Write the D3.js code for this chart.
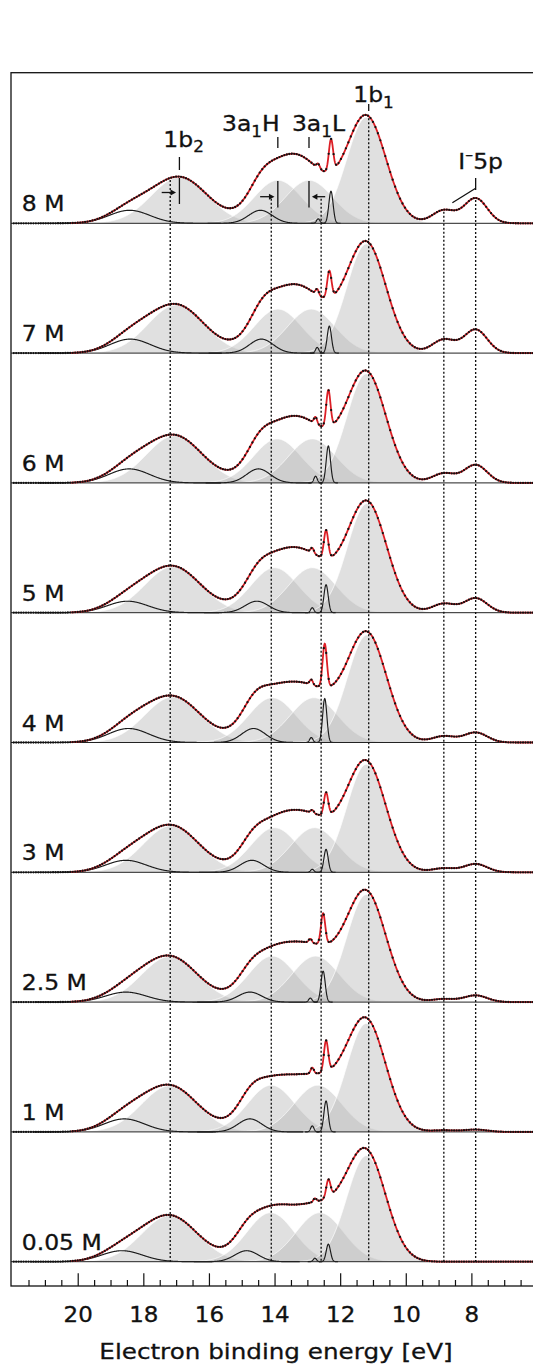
<!DOCTYPE html>
<html><head><meta charset="utf-8">
<script src="https://cdn.jsdelivr.net/npm/d3@7"></script>
<style>html,body{margin:0;padding:0;background:#fff;} svg{display:block;}</style>
</head><body>
<svg id="c" width="533" height="1365"></svg>
<script>
// ---------------- data ----------------
const panels = ["8 M","7 M","6 M","5 M","4 M","3 M","2.5 M","1 M","0.05 M"];

// liquid-phase components (grey fills): position [eV], height [arb. u.]
const b2Pos  = [16.90, 17.00, 17.05, 17.10, 17.10, 17.15, 17.20, 17.20, 17.20];
const b2Amp  = [0.46, 0.48, 0.47, 0.46, 0.455, 0.465, 0.455, 0.46, 0.46];
const a1HPos = [13.90, 13.90, 13.92, 14.00, 14.07, 14.00, 14.07, 14.10, 14.12];
const a1HAmp = [0.43, 0.44, 0.44, 0.45, 0.448, 0.446, 0.46, 0.467, 0.49];
const a1LPos = [12.95, 12.88, 12.85, 12.85, 12.80, 12.78, 12.75, 12.68, 12.62];
const a1LAmp = [0.43, 0.44, 0.44, 0.45, 0.448, 0.446, 0.46, 0.467, 0.49];
const b1Pos  = [11.20, 11.20, 11.20, 11.18, 11.18, 11.20, 11.20, 11.20, 11.20];
const b1Amp  = [1.06, 1.09, 1.09, 1.09, 1.075, 1.08, 1.075, 1.085, 1.06];
const liquidWidths = [0.85, 0.72, 0.72, 0.60];

// gas-phase components (black lines)
const gas1Pos = [18.42, 18.40, 18.43, 18.48, 18.45, 18.53, 18.53, 18.58, 18.65];
const gas1Amp = [0.13, 0.14, 0.14, 0.115, 0.14, 0.12, 0.10, 0.13, 0.11];
const gas2Pos = [14.43, 14.40, 14.49, 14.54, 14.64, 14.69, 14.75, 14.75, 14.85];
const gas2Amp = [0.13, 0.14, 0.14, 0.115, 0.14, 0.12, 0.10, 0.13, 0.11];
const gas3Pos = [12.28, 12.33, 12.36, 12.43, 12.47, 12.43, 12.52, 12.43, 12.36];
const gas3Amp = [0.32, 0.27, 0.37, 0.28, 0.44, 0.23, 0.31, 0.31, 0.175];
const gas4Pos = [12.67, 12.70, 12.75, 12.85, 12.88, 12.85, 12.91, 12.85, 12.77];
const gas4Amp = [0.045, 0.057, 0.067, 0.05, 0.05, 0.03, 0.04, 0.06, 0.035];
const gasWidths = [0.62, 0.36, 0.065, 0.05];

// iodide I- 5p peaks
const iodidePos = [7.87, 8.84];
const iodide1Amp = [0.25, 0.235, 0.18, 0.145, 0.10, 0.083, 0.067, 0.023, 0];
const iodide2Amp = [0.13, 0.135, 0.095, 0.09, 0.063, 0.04, 0.031, 0.016, 0];
const iodideWidths = [0.35, 0.35];

// reference (0.05 M) positions and shifted 8 M positions
const refLines = [17.18, 14.10, 12.58, 11.13, 8.84, 7.87];
const shift8M = [16.90, 13.90, 12.95];

const majorTicks = [20, 18, 16, 14, 12, 10, 8];
const minorTicks = [21.5, 21, 20.5, 19.5, 19, 18.5, 17.5, 17, 16.5, 15.5, 15, 14.5,
                    13.5, 13, 12.5, 11.5, 11, 10.5, 9.5, 9, 8.5, 7.5, 7, 6.5];
const xTitle = "Electron binding energy [eV]";

// ---------------- drawing ----------------
const svg = d3.select("#c");
const FONT = "'DejaVu Sans', Verdana, sans-serif";
const FS = 1.12; // horizontal stretch of lettering
const frameLeft = 11, frameTop = 72.7, frameBottom = 1286, frameRight = 548;

const x = d3.scaleLinear().domain([22, 6]).range([12.1, 537]);
const base = d3.scalePoint().domain(panels).range([223.3, 1261.7]);
const yI = d3.scaleLinear().domain([0, 1]).range([0, 100]);

const gauss = (e, c, a, w) => a * Math.exp(-0.5 * ((e - c) / w) ** 2);

function comps(i) {
  return {
    liquid: [[b2Pos[i], b2Amp[i], liquidWidths[0]], [a1HPos[i], a1HAmp[i], liquidWidths[1]],
             [a1LPos[i], a1LAmp[i], liquidWidths[2]], [b1Pos[i], b1Amp[i], liquidWidths[3]]],
    gas: [[gas1Pos[i], gas1Amp[i], gasWidths[0]], [gas2Pos[i], gas2Amp[i], gasWidths[1]],
          [gas3Pos[i], gas3Amp[i], gasWidths[2]], [gas4Pos[i], gas4Amp[i], gasWidths[3]]],
    iodide: [[iodidePos[0], iodide1Amp[i], iodideWidths[0]], [iodidePos[1], iodide2Amp[i], iodideWidths[1]]]
  };
}
function total(i, e) {
  const c = comps(i);
  let s = 0;
  c.liquid.concat(c.gas, c.iodide).forEach(([p, a, w]) => { s += gauss(e, p, a, w); });
  return s;
}

function txt(sel, px, py, size, anchor) {
  return sel.append("text")
    .attr("transform", `translate(${px},${py}) scale(${FS},1)`)
    .attr("font-family", FONT).attr("font-size", size)
    .attr("text-anchor", anchor || "start").attr("fill", "#111")
    .attr("stroke", "#111").attr("stroke-width", 0.3);
}

svg.append("defs").append("clipPath").attr("id", "clip")
  .append("rect").attr("x", frameLeft).attr("y", frameTop)
  .attr("width", 533 - frameLeft).attr("height", frameBottom - frameTop);

const plot = svg.append("g").attr("clip-path", "url(#clip)");

panels.forEach((p, i) => {
  const b = base(p);
  const c = comps(i);
  const g = plot.append("g");

  // grey liquid components
  c.liquid.forEach(([pc, a, w]) => {
    const pts = d3.range(pc - 4.2 * w, pc + 4.2 * w, 0.01);
    g.append("path").datum(pts)
      .attr("d", d3.area().x(e => x(e)).y0(b).y1(e => b - yI(gauss(e, pc, a, w))))
      .attr("fill", "#b4b4b4").attr("fill-opacity", 0.42)
      .attr("stroke", "#fff").attr("stroke-width", 0.9).attr("stroke-opacity", 0.85);
  });

  // gas-phase components
  c.gas.forEach(([pc, a, w]) => {
    const pts = d3.range(pc - 4.5 * w, pc + 4.5 * w, Math.min(0.01, w / 10));
    g.append("path").datum(pts)
      .attr("d", d3.line().x(e => x(e)).y(e => b - yI(gauss(e, pc, a, w))))
      .attr("fill", "none").attr("stroke", "#1a1a1a").attr("stroke-width", 1.15);
  });

  // panel zero line
  g.append("line").attr("x1", frameLeft).attr("x2", frameRight).attr("y1", b).attr("y2", b)
    .attr("stroke", "#222").attr("stroke-width", 1);

  // fit
  const fitE = d3.range(20.2, 6.0, -0.008);
  g.append("path").datum(fitE)
    .attr("d", d3.line().x(e => x(e)).y(e => b - yI(total(i, e))))
    .attr("fill", "none").attr("stroke", "#dc1f26").attr("stroke-width", 1.8);

  // measured points
  const dataE = d3.range(21.95, 6.0, -0.075);
  g.append("g").selectAll("circle").data(dataE).join("circle")
    .attr("cx", e => x(e)).attr("cy", e => b - yI(total(i, e)))
    .attr("r", 1.15).attr("fill", "#111");

  // concentration label
  txt(svg, 21.7, b - 12, 21).text(p);
});

// vertical dotted reference lines
const arrowY = 196.7;
const startAtArrow = [false, true, true, false, false, false];
const lastBase = base(panels[panels.length - 1]);
refLines.forEach((e, k) => {
  const y0 = startAtArrow[k] ? arrowY + 2 : base(panels[0]) - yI(total(0, e)) + 2;
  svg.append("line").attr("x1", x(e)).attr("x2", x(e)).attr("y1", y0).attr("y2", lastBase)
    .attr("stroke", "#111").attr("stroke-width", 1.35).attr("stroke-dasharray", "2,2");
});

// annotations (top panel)
const ann = svg.append("g").attr("stroke", "#111").attr("stroke-width", 1.3);
const vline = (px, y1, y2) => ann.append("line").attr("x1", px).attr("x2", px).attr("y1", y1).attr("y2", y2);
const xb2 = x(shift8M[0]), xH = x(shift8M[1]), xL = x(shift8M[2]);
const xb1 = x(refLines[3]), xI = x(refLines[5]);

// label ticks
vline(xb2, 157, 170);
vline(xH, 137, 148);
vline(xL, 137, 148);
vline(xb1, 104, 111);
vline(xI, 178, 190);
// shifted peak markers
vline(xb2, 178, 204);
vline(xH, 181, 207.5);
vline(xL, 181, 207.5);
// I- 5p bracket
ann.append("line").attr("x1", x(8.58)).attr("y1", 202.7).attr("x2", xI).attr("y2", 188.3);

// arrows
function arrow(x1, x2, yy) {
  const dir = Math.sign(x2 - x1);
  ann.append("line").attr("x1", x1).attr("x2", x2 - dir * 3).attr("y1", yy).attr("y2", yy);
  svg.append("path")
    .attr("d", `M${x2},${yy} L${x2 - dir * 5.5},${yy - 3} L${x2 - dir * 5.5},${yy + 3} Z`)
    .attr("fill", "#111");
}
arrow(xb2 - 17.7, xb2 - 3.4, 192.5);
arrow(xH - 17.7, xH - 3.4, arrowY);
arrow(xL + 16.2, xL + 2.9, arrowY);

// peak labels
function subLabel(px, py, main, sub, tail) {
  const t = txt(svg, px, py, 21);
  t.append("tspan").text(main);
  t.append("tspan").attr("font-size", 15).attr("dy", 5.6).text(sub);
  if (tail) t.append("tspan").attr("font-size", 21).attr("dy", -5.6).text(tail);
}
subLabel(xb2 - 16.1, 146.5, "1b", "2");
subLabel(xH - 55.9, 131, "3a", "1", "H");
subLabel(xL - 17.1, 131, "3a", "1", "L");
subLabel(xb1 - 15.5, 102, "1b", "1");
{
  const t = txt(svg, xI - 17.3, 169, 21);
  t.append("tspan").text("I");
  t.append("tspan").attr("font-size", 14).attr("dy", -9).text("–");
  t.append("tspan").attr("font-size", 21).attr("dy", 9).text("5p");
}

// axis
const axMajor = svg.append("g").attr("transform", `translate(0,${frameBottom})`)
  .call(d3.axisBottom(x).tickValues(majorTicks).tickSize(-12.7).tickSizeOuter(0).tickFormat(d3.format("d")));
axMajor.select(".domain").remove();
axMajor.selectAll(".tick line").attr("stroke", "#111").attr("stroke-width", 1.2);
axMajor.selectAll(".tick text")
  .attr("y", 36.5).attr("dy", null)
  .attr("transform", `scale(${FS},1)`)
  .attr("font-family", FONT).attr("font-size", 20.5).attr("fill", "#111")
  .attr("stroke", "#111").attr("stroke-width", 0.3);
const axMinor = svg.append("g").attr("transform", `translate(0,${frameBottom})`)
  .call(d3.axisBottom(x).tickValues(minorTicks).tickSize(-6).tickSizeOuter(0).tickFormat(""));
axMinor.select(".domain").remove();
axMinor.selectAll(".tick line").attr("stroke", "#111").attr("stroke-width", 1.2);

txt(svg, 276, 1359, 22, "middle").text(xTitle);

// frame
svg.append("rect").attr("x", frameLeft).attr("y", frameTop)
  .attr("width", frameRight - frameLeft).attr("height", frameBottom - frameTop)
  .attr("fill", "none").attr("stroke", "#111").attr("stroke-width", 1.3);
</script>
</body></html>
